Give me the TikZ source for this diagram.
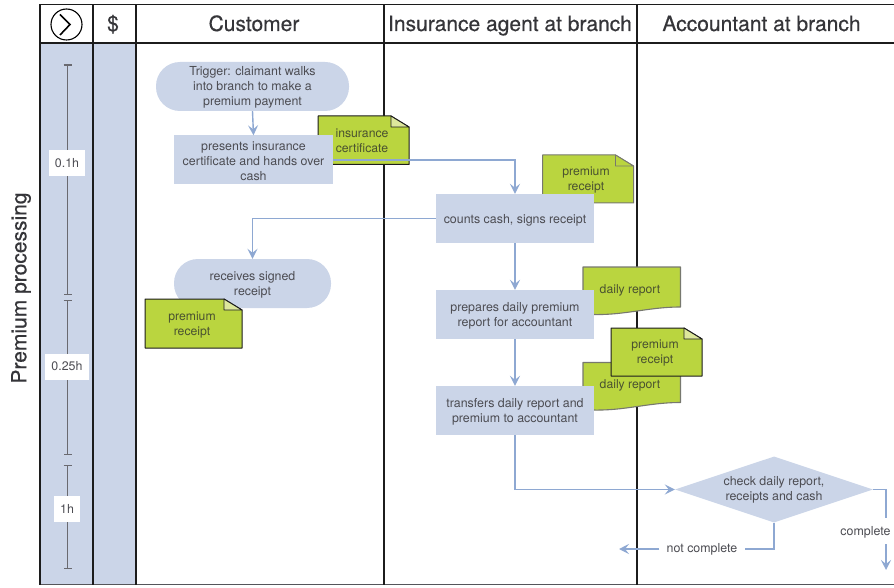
\documentclass[tikz,border=0pt]{standalone}
\usepackage{fontspec}
\setmainfont{TeX Gyre Heros}
\usetikzlibrary{arrows.meta,shapes.geometric,calc}
\definecolor{lane}{HTML}{CBD5E8}
\definecolor{flow}{HTML}{8EA8D2}
\definecolor{ink}{HTML}{4C4C52}
\definecolor{leaf}{HTML}{BAD53F}
\definecolor{leafl}{HTML}{DDE79B}
\definecolor{leafink}{HTML}{4A5230}
\definecolor{tick}{HTML}{6A6A70}
\definecolor{dk}{HTML}{1C1C1C}
\definecolor{gr}{HTML}{77786F}
\newcommand{\tpa}{\rule{0pt}{11pt}}
\newcommand{\tpb}{\rule{0pt}{13pt}}
\tikzset{
 lanerule/.style={draw=dk,line width=1.5pt},
 head/.style={font=\fontsize{21}{24}\selectfont\addfontfeature{FakeBold=0.5},text=ink!70!black,anchor=base},
 stepbox/.style={fill=lane,text=ink,font=\fontsize{12.4}{15}\selectfont,align=center,inner sep=0pt,minimum width=158pt,minimum height=49pt},
 oval/.style={stepbox,rounded corners=24pt},
 dec/.style={diamond,fill=lane,text=ink,font=\fontsize{12.4}{15}\selectfont,align=center,inner sep=0pt,aspect=3,minimum width=198pt,minimum height=66pt},
 flowline/.style={draw=flow,line width=1.4pt},
 flowarrow/.style={flowline,-{Stealth[length=10pt,width=10pt,inset=4pt]}},
 notetext/.style={text=leafink,font=\fontsize{12.2}{15}\selectfont,align=center,inner sep=0pt},
 flowlabel/.style={text=ink,font=\fontsize{12.4}{15}\selectfont,inner sep=0pt},
 timeline/.style={draw=tick,line width=1.2pt,{Bar[width=8pt,line width=1.2pt]}-{Bar[width=8pt,line width=1.2pt]}},
 timelabel/.style={fill=white,text=ink,font=\fontsize{12.4}{15}\selectfont,inner sep=0pt,minimum height=26pt},
}
% x1 y1 x2 y2 border foldcolour
\newcommand{\notebody}[6]{%
 \path[fill=leaf,draw=#5,line width=1pt,line join=round] (#1,#2) -- (#3-18,#2) -- (#3,#2+11) -- (#3,#4) -- (#1,#4) -- cycle;
 \path[fill=#6,draw=#5,line width=.9pt,line join=round] (#3-18,#2) -- (#3-18,#2+11) -- (#3,#2+11) -- cycle;
}
% x1 y1 x2 y2
\newcommand{\wavebody}[4]{%
 \path[fill=leaf,draw=gr,line width=1.1pt,line join=round] (#1,#2) -- (#3,#2) -- (#3,#4-7) .. controls (#3-35,#4-7) and (#3-60,#4+3) .. (#1,#4) -- cycle;
}
\begin{document}
\begin{tikzpicture}[x=1pt,y=-1pt]
\useasboundingbox (0,0) rectangle (894,588);
\fill[white] (0,0) rectangle (894,588);
\fill[lane] (40,43) rectangle (136,584);
% lane rules
\draw[lanerule] (40,4.5) -- (894,4.5);
\draw[lanerule] (40,43) -- (894,43);
\draw[lanerule,draw=tick!80!black] (40,584.5) -- (894,584.5);
\foreach \xx in {40,93,136,383.8,637} \draw[lanerule] (\xx,4.5) -- (\xx,584.5);
% header
\draw[draw=black,line width=1.1pt] (66.5,24.5) circle (15.5);
\draw[draw=black,line width=1.6pt] (60,14.5) -- (70,24.5) -- (60,35);
\node[head] (hdollar) at (113,31) {\$};
\node[head] (hcust) at (254,31) {Customer};
\node[head] (hagent) at (510,31) {Insurance agent at branch};
\node[head] (hacct) at (761.5,31) {Accountant at branch};
\node[head,anchor=center,rotate=90] (hproc) at (21,288) {Premium processing};
% timeline
\coordinate (t1a) at (67.5,64.5); \coordinate (t1b) at (67.5,295);
\coordinate (t2a) at (67.5,300); \coordinate (t2b) at (67.5,455);
\coordinate (t3a) at (67.5,465); \coordinate (t3b) at (67.5,569);
\draw[timeline] (t1a) -- (t1b);
\draw[timeline] (t2a) -- (t2b);
\draw[timeline] (t3a) -- (t3b);
\node[timelabel,minimum width=36pt] (t1) at (67,163.5) {0.1h};
\node[timelabel,minimum width=44pt] (t2) at (67,366.5) {0.25h};
\node[timelabel,minimum width=26pt] (t3) at (67,509) {1h};
% background documents
\notebody{318}{116}{409}{164.5}{dk}{leafl}
\notebody{542.5}{155}{633.5}{203}{gr}{leaf}
\wavebody{583}{267}{680.5}{314}
\wavebody{583}{362.5}{680.5}{409.5}
% steps
\node[oval,minimum width=193pt] (trigger) at (252.5,86.5) {\tpa Trigger: claimant walks\\into branch to make a\\premium payment};
\node[stepbox,minimum width=159pt] (present) at (253.5,160) {\tpa presents insurance\\certificate and hands over\\cash};
\node[notetext,anchor=center] (ncert) at (362,141) {insurance\\certificate};
\node[stepbox] (count) at (515,218.5) {\tpb counts cash, signs receipt};
\node[notetext] (nrec2) at (586,180) {premium\\receipt};
\node[oval,minimum width=157pt] (recv) at (252.5,283.5) {\tpa receives signed\\receipt};
\notebody{145}{299}{242}{348}{dk}{leafl}
\node[notetext] (nrec3) at (192,325) {premium\\receipt};
\node[notetext] (nd1) at (630,290.5) {daily report};
\node[stepbox] (prep) at (515,314.5) {\tpa prepares daily premium\\report for accountant};
\node[notetext] (nd2) at (630,385.5) {daily report};
\notebody{611}{328}{702}{376}{dk}{leafl}
\node[notetext] (nrec4) at (655,353.5) {premium\\receipt};
\node[stepbox] (trans) at (515,410.5) {\tpa transfers daily report and\\premium to accountant};
\node[dec] (check) at (774,489.5) {check daily report,\\receipts and cash};
\node[flowlabel] (lnot) at (702,549) {not complete};
\node[flowlabel] (lcpl) at (865.5,532) {complete};
\coordinate (endnot) at (619,549);
\coordinate (endcpl) at (886,570);
\coordinate (cplup) at (886,518);
\coordinate (cpldn) at (886,544);
% connectors
\draw[flowarrow] (trigger.south) -- (present.north);
\draw[flowarrow] (present.east) -| (count.north);
\draw[flowarrow] (count.west) -| (recv.north);
\draw[flowarrow] (count.south) -- (prep.north);
\draw[flowarrow] (prep.south) -- (trans.north);
\draw[flowarrow] (trans.south) |- (check.west);
\draw[flowline] (check.south) |- ([xshift=7pt]lnot.east);
\draw[flowarrow] ([xshift=-7pt]lnot.west) -- (endnot);
\draw[flowline] (check.east) -| (cplup);
\draw[flowarrow] (cpldn) -- (endcpl);
\end{tikzpicture}
\end{document}
